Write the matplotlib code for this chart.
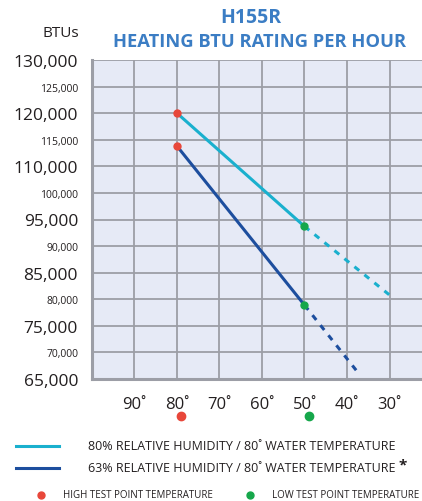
import numpy as np
import matplotlib
matplotlib.use('Agg')
import matplotlib.pyplot as plt
from matplotlib.lines import Line2D
from matplotlib.transforms import ScaledTranslation

# y axis labels as printed on the chart (note 105,000 is skipped)
ytick_vals = [130000, 125000, 120000, 115000, 110000, 100000, 95000,
              90000, 85000, 80000, 75000, 70000, 65000]
ytick_big = [True, False, True, False, True, False, True,
             False, True, False, True, False, True]
xtick_vals = [90, 80, 70, 60, 50, 40, 30]

# measured segments (air temp deg F, BTU/h)
temp_solid = [80, 50]
btu80_solid = [120000, 93700]
btu63_solid = [113800, 78900]
temp80_dash = [50, 30]
btu80_dash = [93700, 80800]
temp63_dash = [50, 37.5]
btu63_dash = [78900, 66300]

c_cyan = '#1AB0CE'
c_dark = '#1D4E9E'
c_red = '#E8473A'
c_green = '#16A74B'
c_title = '#3B7DC4'
c_text = '#231F20'

plt.rcParams['font.family'] = ['Open Sans', 'DejaVu Sans']

# the chart's axis is evenly spaced by label, so map values through the labels
vals_sorted = np.array(ytick_vals[::-1], dtype=float)
pos_sorted = np.arange(len(vals_sorted), dtype=float)

def fwd(v):
    return np.interp(v, vals_sorted, pos_sorted, left=np.nan, right=np.nan)

def inv(p):
    return np.interp(p, pos_sorted, vals_sorted)

fig = plt.figure(figsize=(4.22, 5.02), dpi=100)
ax = fig.add_axes([92 / 422, 1 - 380 / 502, 1 - 92 / 422, (380 - 61) / 502])
ax.set_yscale('function', functions=(fwd, inv))
ax.set_ylim(65000, 130000)
ax.set_xlim(100, 100 - (422 - 92) / 4.25)
ax.set_facecolor('#E6EAF6')

ax.set_yticks(ytick_vals)
ax.set_yticklabels([f'{v:,}' for v in ytick_vals])
for lab, big in zip(ax.get_yticklabels(), ytick_big):
    lab.set_fontsize(12.5 if big else 7.5)
    lab.set_color(c_text)
ax.set_xticks(xtick_vals)
ax.set_xticklabels([f'{v}˚' for v in xtick_vals], fontsize=12, color=c_text)
shift = ScaledTranslation(4 / 100, 0, fig.dpi_scale_trans)
for lab in ax.get_xticklabels():
    lab.set_transform(lab.get_transform() + shift)
ax.tick_params(length=0)
ax.tick_params(axis='y', pad=10)
ax.tick_params(axis='x', pad=12)
ax.grid(True, color='#9C9EA6', lw=1.3)
ax.set_axisbelow(True)
for s in ['top', 'right']:
    ax.spines[s].set_visible(False)
for s in ['left', 'bottom']:
    ax.spines[s].set_color('#9C9EA6')
    ax.spines[s].set_linewidth(2.2)

ax.plot(temp_solid, btu80_solid, color=c_cyan, lw=2.2, solid_capstyle='butt')
ax.plot(temp_solid, btu63_solid, color=c_dark, lw=2.2, solid_capstyle='butt')
ax.plot(temp80_dash, btu80_dash, color=c_cyan, lw=2.2, ls=(0, (2, 2.2)))
ax.plot(temp63_dash, btu63_dash, color=c_dark, lw=2.2, ls=(0, (2, 2.2)))
ax.plot([80, 80], [btu80_solid[0], btu63_solid[0]], 'o', color=c_red, ms=5, zorder=5, ls='none')
ax.plot([50, 50], [btu80_solid[1], btu63_solid[1]], 'o', color=c_green, ms=5, zorder=5, ls='none')

# test point dots under the x labels
dot_tr = ax.get_xaxis_transform() + ScaledTranslation(4.5 / 100, 0, fig.dpi_scale_trans)
dot_y = -(417 - 380) / (380 - 61)
ax.plot([80], [dot_y], 'o', color=c_red, ms=6, clip_on=False, transform=dot_tr, ls='none')
ax.plot([50], [dot_y], 'o', color=c_green, ms=6, clip_on=False, transform=dot_tr, ls='none')

fig.text(251 / 422, 1 - 18 / 502, 'H155R', ha='center', va='center',
         fontsize=14, fontweight='bold', color=c_title)
fig.text(260 / 422, 1 - 42 / 502, 'HEATING BTU RATING PER HOUR', ha='center',
         va='center', fontsize=13.2, fontweight='bold', color=c_title)
fig.text(79 / 422, 1 - 34 / 502, 'BTUs', ha='right', va='center',
         fontsize=11, color=c_text)

# legend
fig.add_artist(Line2D([16 / 422, 59 / 422], [1 - 447 / 502] * 2, color=c_cyan, lw=2.2))
fig.add_artist(Line2D([16 / 422, 59 / 422], [1 - 469 / 502] * 2, color=c_dark, lw=2.2))
fig.text(88 / 422, 1 - 447 / 502, '80% RELATIVE HUMIDITY / 80˚ WATER TEMPERATURE',
         va='center', fontsize=9, color=c_text)
fig.text(88 / 422, 1 - 469 / 502, '63% RELATIVE HUMIDITY / 80˚ WATER TEMPERATURE',
         va='center', fontsize=9, color=c_text)
fig.text(399 / 422, 1 - 465 / 502, '*', va='center', fontsize=11,
         fontweight='bold', color=c_text)
fig.add_artist(Line2D([41 / 422], [1 - 496 / 502], marker='o', color=c_red, ms=5, ls='none'))
fig.add_artist(Line2D([250 / 422], [1 - 496 / 502], marker='o', color=c_green, ms=5, ls='none'))
fig.text(63 / 422, 1 - 496 / 502, 'HIGH TEST POINT TEMPERATURE', va='center',
         fontsize=7, color=c_text)
fig.text(272 / 422, 1 - 496 / 502, 'LOW TEST POINT TEMPERATURE', va='center',
         fontsize=7, color=c_text)

fig.savefig('out.png', dpi=100)
